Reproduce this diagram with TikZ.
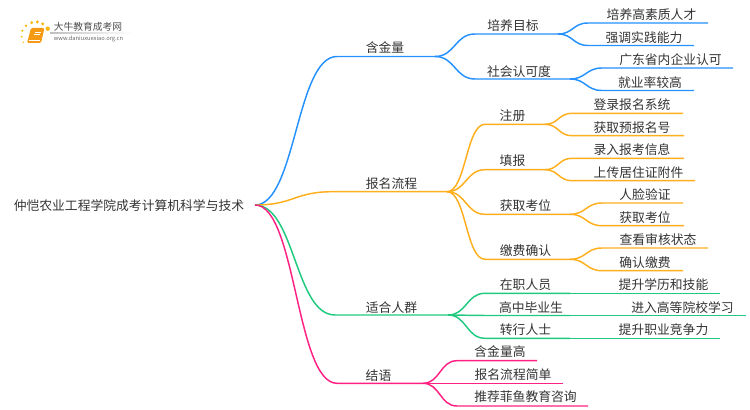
\documentclass[tikz,border=0pt]{standalone}
\usepackage{fontspec}
\newfontfamily\cjkfont{Noto Sans CJK SC}
\usetikzlibrary{calc}
\definecolor{bluebr}{HTML}{2491FF}
\definecolor{orangebr}{HTML}{FFAE1C}
\definecolor{greenbr}{HTML}{20C97E}
\definecolor{pinkbr}{HTML}{FF2083}
\definecolor{textgray}{HTML}{333333}
\definecolor{logoorange}{HTML}{F59A14}
\tikzset{
  topic/.style={font=\cjkfont\fontsize{9.6}{12}\selectfont,text=textgray,inner sep=0pt,yshift=-0.75pt},
  logotext/.style={font=\cjkfont\fontsize{7.3}{9}\selectfont,text=black!70,inner sep=0pt},
  logourl/.style={font=\cjkfont\fontsize{4.3}{5}\selectfont,text=black!60,inner sep=0pt},
  logodot/.style={fill=logoorange!70!yellow,draw=none},
  branch/.style={to path={let \p1=(\tikztostart),\p2=(\tikztotarget) in
    .. controls ({(\x1+\x2)/2},\y1) and ({(\x1+\x2)/2},\y2) .. (\tikztotarget) \tikztonodes}},
  bluel/.style={draw=bluebr,line width=1.1pt},
  orangel/.style={draw=orangebr,line width=1.1pt},
  greenl/.style={draw=greenbr,line width=1.1pt},
  pinkl/.style={draw=pinkbr,line width=1.1pt},
}
\begin{document}
\begin{tikzpicture}[x=0.75pt,y=-0.75pt]
\useasboundingbox (0,0) rectangle (750,410);

\foreach \dx/\dy/\dr in {47.7/28.7/2.2,42.7/24/1.7,37.3/22/1.7,31.7/22.7/1.6,26/25.7/1.4,22.3/30.7/1.2,21.7/36.7/1,23.3/42.3/0.8}
  \fill[logodot] (\dx,\dy) circle (\dr);
\fill[logoorange,rounded corners=1pt] (31,28) -- (44.5,28) -- (41,43) -- (27,43) -- cycle;
\draw[white,line width=0.5pt] (28.5,40.3) -- (40,40.3);
\draw[white,line width=0.4pt] (34.5,32) -- (41,32);
\draw[white,line width=0.4pt] (34,34.5) -- (40,34.5);
\shade[left color=black!25,right color=white] (50,32.7) rectangle (133,33.3);
\node[logotext] (logoname) at (88,26.5) {大牛教育成考网};
\node[logourl] (logourl) at (88.5,38.5) {www.daniuxuexiao.org.cn};

\node[topic] (root) at (129,205) {仲恺农业工程学院成考计算机科学与技术};
\coordinate (root b) at (255,205);

\node[topic] (worth) at (385,47) {含金量};
\coordinate (worth a) at (337,56.5);
\coordinate (worth b) at (435,56.5);
\draw[bluel] (root b) to[branch] (worth a) -- (worth b);

\node[topic] (goal) at (513,25) {培养目标};
\coordinate (goal a) at (475,34);
\coordinate (goal b) at (558,34);
\draw[bluel] (worth b) to[branch] (goal a) -- (goal b);

\node[topic] (talent) at (651.5,14) {培养高素质人才};
\coordinate (talent a) at (588,23);
\coordinate (talent b) at (708,23);
\draw[bluel] (goal b) to[branch] (talent a) -- (talent b);

\node[topic] (practice) at (644,37) {强调实践能力};
\coordinate (practice a) at (588,45.5);
\coordinate (practice b) at (694,45.5);
\draw[bluel] (goal b) to[branch] (practice a) -- (practice b);

\node[topic] (social) at (519,71) {社会认可度};
\coordinate (social a) at (475,79);
\coordinate (social b) at (570,79);
\draw[bluel] (worth b) to[branch] (social a) -- (social b);

\node[topic] (firms) at (670.5,59) {广东省内企业认可};
\coordinate (firms a) at (602,68);
\coordinate (firms b) at (733,68);
\draw[bluel] (social b) to[branch] (firms a) -- (firms b);

\node[topic] (jobs) at (650,82) {就业率较高};
\coordinate (jobs a) at (602,90.5);
\coordinate (jobs b) at (694,90.5);
\draw[bluel] (social b) to[branch] (jobs a) -- (jobs b);

\node[topic] (apply) at (391.5,183) {报名流程};
\coordinate (apply a) at (333,191.7);
\coordinate (apply b) at (447,191.7);
\draw[orangel] (root b) to[branch] (apply a) -- (apply b);

\node[topic] (signup) at (512.5,115) {注册};
\coordinate (signup a) at (485,124.3);
\coordinate (signup b) at (545,124.3);
\draw[orangel] (apply b) to[branch] (signup a) -- (signup b);

\node[topic] (login) at (632,104) {登录报名系统};
\coordinate (login a) at (572,113.3);
\coordinate (login b) at (683,113.3);
\draw[orangel] (signup b) to[branch] (login a) -- (login b);

\node[topic] (prenum) at (632,127) {获取预报名号};
\coordinate (prenum a) at (572,135.7);
\coordinate (prenum b) at (684,135.7);
\draw[orangel] (signup b) to[branch] (prenum a) -- (prenum b);

\node[topic] (fill) at (512.5,160) {填报};
\coordinate (fill a) at (485,169.7);
\coordinate (fill b) at (545,169.7);
\draw[orangel] (apply b) to[branch] (fill a) -- (fill b);

\node[topic] (enter) at (632,149) {录入报考信息};
\coordinate (enter a) at (572,158.3);
\coordinate (enter b) at (684,158.3);
\draw[orangel] (fill b) to[branch] (enter a) -- (enter b);

\node[topic] (upload) at (638.5,172) {上传居住证附件};
\coordinate (upload a) at (572,180.7);
\coordinate (upload b) at (695,180.7);
\draw[orangel] (fill b) to[branch] (upload a) -- (upload b);

\node[topic] (seat) at (525.5,205) {获取考位};
\coordinate (seat a) at (485,214.3);
\coordinate (seat b) at (570,214.3);
\draw[orangel] (apply b) to[branch] (seat a) -- (seat b);

\node[topic] (face) at (645,194) {人脸验证};
\coordinate (face a) at (602,203);
\coordinate (face b) at (683,203);
\draw[orangel] (seat b) to[branch] (face a) -- (face b);

\node[topic] (getseat) at (645,217) {获取考位};
\coordinate (getseat a) at (602,225.7);
\coordinate (getseat b) at (684,225.7);
\draw[orangel] (seat b) to[branch] (getseat a) -- (getseat b);

\node[topic] (pay) at (525.5,250) {缴费确认};
\coordinate (pay a) at (485,259.3);
\coordinate (pay b) at (570,259.3);
\draw[orangel] (apply b) to[branch] (pay a) -- (pay b);

\node[topic] (review) at (658,239) {查看审核状态};
\coordinate (review a) at (602,248);
\coordinate (review b) at (708,248);
\draw[orangel] (pay b) to[branch] (review a) -- (review b);

\node[topic] (confirm) at (645,262) {确认缴费};
\coordinate (confirm a) at (602,270.7);
\coordinate (confirm b) at (683,270.7);
\draw[orangel] (pay b) to[branch] (confirm a) -- (confirm b);

\node[topic] (people) at (391.5,307) {适合人群};
\coordinate (people a) at (335,315);
\coordinate (people b) at (448,315);
\draw[greenl] (root b) to[branch] (people a) -- (people b);

\node[topic] (staff) at (525.5,284) {在职人员};
\coordinate (staff a) at (485,293.3);
\coordinate (staff b) at (570,293.3);
\draw[greenl] (people b) to[branch] (staff a) -- (staff b);

\node[topic] (skills) at (663.5,284) {提升学历和技能};
\coordinate (skills b) at (720,293.3);
\draw[greenl] (staff b) -- (skills b);

\node[topic] (grads) at (531,307) {高中毕业生};
\coordinate (grads a) at (485,315.5);
\coordinate (grads b) at (570,315.5);
\draw[greenl] (people b) to[branch] (grads a) -- (grads b);

\node[topic] (college) at (682.5,307) {进入高等院校学习};
\coordinate (college b) at (746,315.5);
\draw[greenl] (grads b) -- (college b);

\node[topic] (switch) at (525.5,329) {转行人士};
\coordinate (switch a) at (485,338.3);
\coordinate (switch b) at (570,338.3);
\draw[greenl] (people b) to[branch] (switch a) -- (switch b);

\node[topic] (compete) at (663.5,329) {提升职业竞争力};
\coordinate (compete b) at (720,338.3);
\draw[greenl] (switch b) -- (compete b);

\node[topic] (ending) at (378.5,375) {结语};
\coordinate (ending a) at (337,383.3);
\coordinate (ending b) at (423,383.3);
\draw[pinkl] (root b) to[branch] (ending a) -- (ending b);

\node[topic] (high) at (500,351) {含金量高};
\coordinate (high a) at (457,360.7);
\coordinate (high b) at (537,360.7);
\draw[pinkl] (ending b) to[branch] (high a) -- (high b);

\node[topic] (simple) at (513,374) {报名流程简单};
\coordinate (simple b) at (563,383.3);
\draw[pinkl] (ending b) -- (simple b);

\node[topic] (advice) at (525.5,396) {推荐菲鱼教育咨询};
\coordinate (advice a) at (457,406);
\coordinate (advice b) at (588,406);
\draw[pinkl] (ending b) to[branch] (advice a) -- (advice b);

\end{tikzpicture}
\end{document}
